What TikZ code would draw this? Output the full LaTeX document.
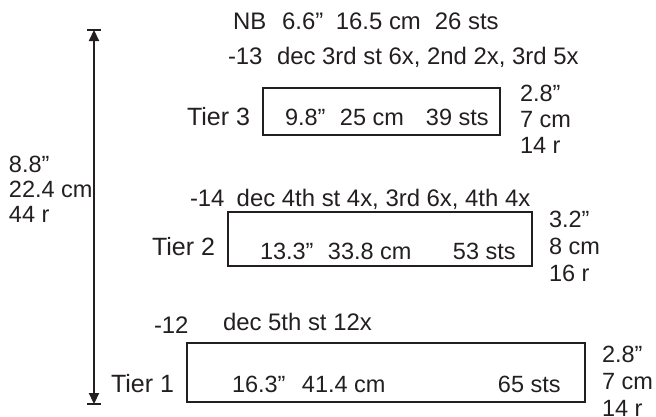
\documentclass[tikz,border=0pt]{standalone}
\usepackage{fontspec}
\setmainfont{Liberation Sans}
\usetikzlibrary{arrows.meta}
\definecolor{ink}{HTML}{231F20}
\begin{document}
\begin{tikzpicture}[x=1pt,y=-1pt,
  txt/.style={anchor=base west, inner sep=0pt, outer sep=0pt, text=ink, font=\fontsize{23.5}{25.5}\selectfont},
  dectxt/.style={txt, font=\fontsize{23.9}{25.5}\selectfont},
  tiertxt/.style={txt, font=\fontsize{25}{27}\selectfont},
  stack/.style={anchor=north west, inner sep=0pt, outer sep=0pt, align=left, text=ink, font=\fontsize{23.5}{#1}\selectfont},
  tierbox/.style={draw=ink, line width=2pt, anchor=north west, inner sep=0pt, outer sep=0pt},
  dimline/.style={draw=ink, line width=2.2pt, {Triangle[length=11pt,width=10pt]}-{Triangle[length=11pt,width=10pt]}},
  dimbar/.style={draw=ink, line width=2pt}]
\useasboundingbox (0,0) rectangle (656,416);

% overall height dimension
\coordinate (atop) at (94,30);
\coordinate (abot) at (94,404);
\draw[dimline] (atop) -- (abot);
\draw[dimbar] ([xshift=-7pt]atop) -- ([xshift=7pt]atop);
\draw[dimbar] ([xshift=-7pt]abot) -- ([xshift=7pt]abot);
\node[stack=25] (hlbl) at (9,156) {8.8”\\22.4 cm\\44 r};

% top line
\node[dectxt] (nb) at (233,29.5) {NB\hspace{16pt}6.6”\hspace{12.5pt}16.5 cm\hspace{14pt}26 sts};

% Tier 3
\node[dectxt] (dec3) at (228,64) {-13\hspace{14.5pt}dec 3rd st 6x, 2nd 2x, 3rd 5x};
\node[tierbox, minimum width=237pt, minimum height=47pt] (box3) at (263,88) {};
\node[tiertxt] (t3) at (187,125) {Tier 3};
\node[txt] (w3) at (285,125) {9.8”\hspace{14.5pt}25 cm\hspace{22pt}39 sts};
\node[stack=26] (h3) at (520,85) {2.8”\\7 cm\\14 r};

% Tier 2
\node[dectxt] (dec2) at (190,206) {-14\hspace{12.2pt}dec 4th st 4x, 3rd 6x, 4th 4x};
\node[tierbox, minimum width=304pt, minimum height=54pt] (box2) at (228,212) {};
\node[tiertxt] (t2) at (152,255) {Tier 2};
\node[txt] (w2) at (260,259.5) {13.3”\hspace{14.4pt}33.8 cm\hspace{41.4pt}53 sts};
\node[stack=27] (h2) at (549,211) {3.2”\\8 cm\\16 r};

% Tier 1
\node[dectxt] (m1) at (154,333) {-12};
\node[dectxt] (dec1) at (223,330) {dec 5th st 12x};
\node[tierbox, minimum width=398pt, minimum height=59pt] (box1) at (187,343) {};
\node[tiertxt] (t1) at (111,392) {Tier 1};
\node[txt] (w1) at (232,392.5) {16.3”\hspace{16.4pt}41.4 cm\hspace{112.4pt}65 sts};
\node[stack=27] (h1) at (602,346) {2.8”\\7 cm\\14 r};
\end{tikzpicture}
\end{document}
